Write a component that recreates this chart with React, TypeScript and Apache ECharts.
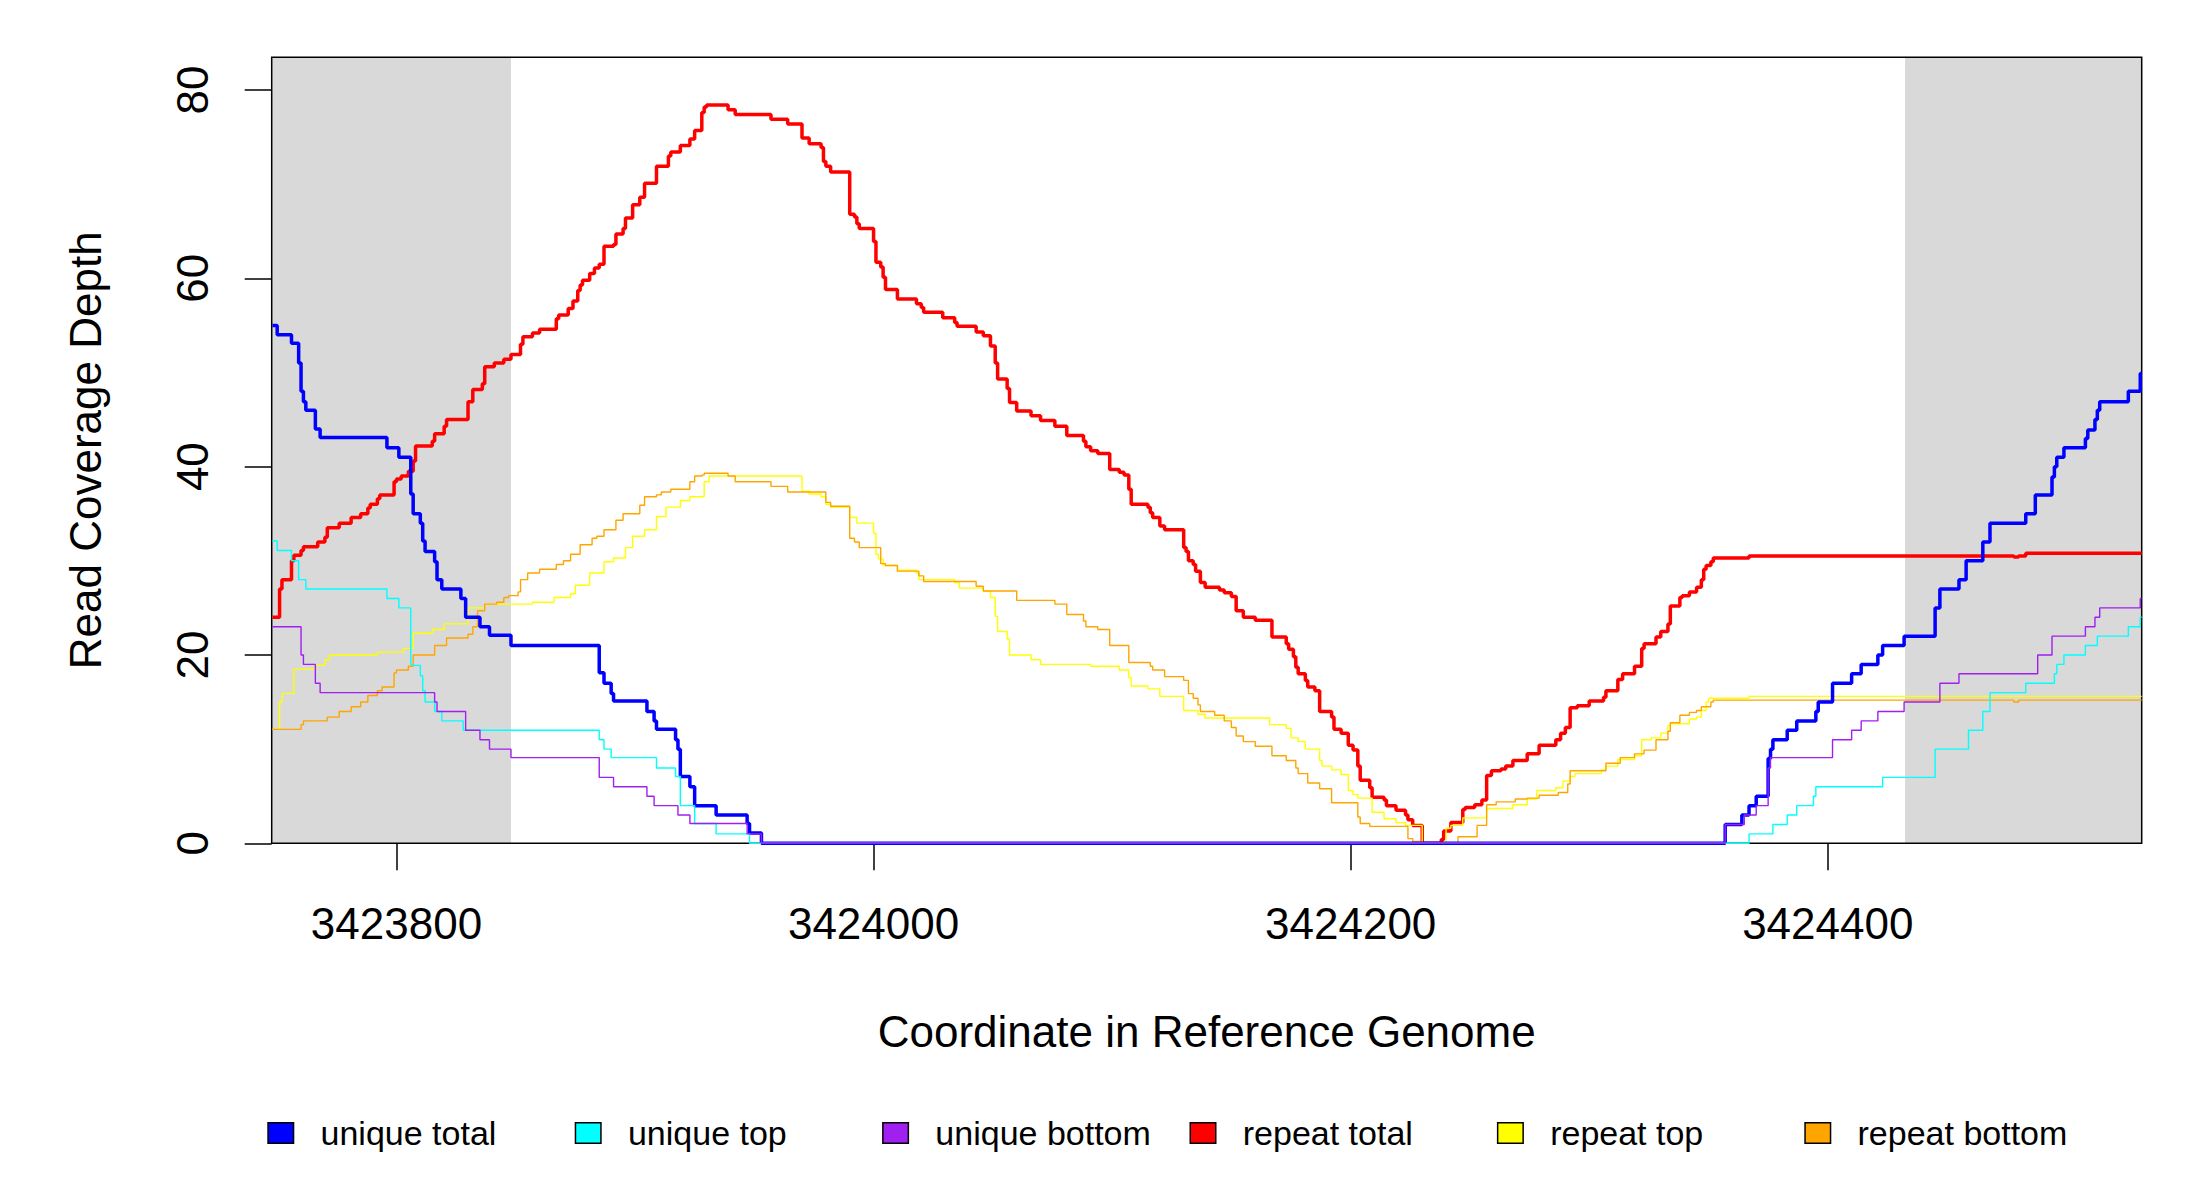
import React, { useEffect, useRef } from "react";
import * as echarts from "echarts";

// ---- axis ranges and ticks ----
const xRange: [number, number] = [3423747.7, 3424531.6];
const yRange: [number, number] = [0, 83.47];
const xTicks = [3423800, 3424000, 3424200, 3424400];
const yTicks = [0, 20, 40, 60, 80];
const shadedRegions: [number, number][] = [
  [3423747.7, 3423848],
  [3424432.4, 3424531.6],
];

// ---- series (x = region start of each step, y = depth) ----
const uniqueTotal: [number, number][] = [
  [3423748, 55.0], [3423750, 54.0], [3423756, 53.1], [3423759, 51.0], [3423760, 48.0], [3423761, 46.9],
  [3423762, 46.0], [3423766, 44.0], [3423768, 43.1], [3423796, 42.0], [3423801, 41.0], [3423806, 37.1],
  [3423807, 35.0], [3423810, 34.0], [3423811, 32.1], [3423812, 31.0], [3423816, 29.9], [3423817, 28.0],
  [3423819, 27.0], [3423827, 26.0], [3423829, 24.0], [3423835, 23.0], [3423839, 22.1], [3423848, 21.0],
  [3423885, 18.1], [3423887, 17.0], [3423890, 15.9], [3423891, 15.1], [3423905, 14.0], [3423908, 13.0],
  [3423909, 12.1], [3423917, 11.0], [3423918, 10.0], [3423919, 7.1], [3423923, 6.0], [3423925, 4.0],
  [3423934, 3.0], [3423947, 2.1], [3423948, 1.1], [3423953, 0], [3424357, 2.0], [3424364, 3.0],
  [3424367, 4.0], [3424370, 5.0], [3424375, 9.0], [3424376, 10.0], [3424377, 11.0], [3424383, 12.0],
  [3424387, 13.0], [3424395, 14.0], [3424396, 15.0], [3424402, 17.0], [3424410, 18.0], [3424414, 19.0],
  [3424421, 20.0], [3424423, 21.0], [3424432, 22.0], [3424445, 25.0], [3424447, 27.0], [3424455, 28.0],
  [3424458, 30.0], [3424465, 32.0], [3424468, 34.0], [3424483, 35.0], [3424487, 37.0], [3424494, 38.9],
  [3424495, 40.0], [3424496, 41.0], [3424499, 42.0], [3424508, 43.0], [3424509, 43.9], [3424512, 45.0],
  [3424513, 46.0], [3424514, 46.9], [3424526, 48.0], [3424531, 49.9], [3424531.6, 49.9],
];

const uniqueTop: [number, number][] = [
  [3423748, 32.1], [3423750, 31.1], [3423756, 30.0], [3423759, 28.0], [3423762, 27.0], [3423796, 26.0],
  [3423801, 25.0], [3423806, 19.0], [3423807, 18.9], [3423810, 17.8], [3423811, 16.2], [3423812, 15.0],
  [3423816, 14.0], [3423819, 13.0], [3423828, 12.0], [3423885, 11.0], [3423887, 10.0], [3423890, 9.1],
  [3423909, 8.0], [3423917, 7.1], [3423919, 4.0], [3423925, 2.1], [3423934, 1.0], [3423948, 0],
  [3424367, 1.0], [3424377, 2.0], [3424383, 3.0], [3424387, 4.0], [3424394, 5.0], [3424395, 6.0],
  [3424423, 7.0], [3424445, 10.0], [3424459, 12.0], [3424465, 14.0], [3424468, 16.0], [3424483, 17.0],
  [3424495, 18.0], [3424496, 19.0], [3424499, 20.0], [3424508, 21.0], [3424513, 22.0], [3424526, 23.0],
  [3424531, 24.0], [3424531.6, 24.0],
];

const uniqueBottom: [number, number][] = [
  [3423748, 23.0], [3423760, 20.0], [3423761, 19.0], [3423766, 17.0], [3423768, 16.0], [3423816, 15.0],
  [3423817, 14.0], [3423829, 12.0], [3423835, 11.0], [3423839, 10.0], [3423848, 9.1], [3423885, 7.0],
  [3423891, 6.0], [3423905, 5.0], [3423908, 4.0], [3423918, 3.0], [3423923, 2.1], [3423947, 1.0],
  [3423953, 0], [3424357, 2.0], [3424365, 3.0], [3424370, 4.0], [3424375, 8.0], [3424376, 9.1],
  [3424402, 11.0], [3424410, 12.0], [3424414, 13.0], [3424421, 14.0], [3424432, 15.0], [3424447, 17.0],
  [3424455, 18.0], [3424488, 20.0], [3424494, 22.0], [3424508, 23.0], [3424512, 24.0], [3424514, 25.0],
  [3424531, 26.0], [3424531.6, 26.0],
];

const repeatTotal: [number, number][] = [
  [3423748, 24.0], [3423751, 27.0], [3423752, 28.0], [3423756, 30.0], [3423757, 30.6], [3423760, 31.1],
  [3423761, 31.5], [3423767, 32.0], [3423770, 32.5], [3423771, 33.5], [3423776, 34.0], [3423781, 34.6],
  [3423785, 35.0], [3423788, 35.6], [3423789, 36.0], [3423792, 36.6], [3423793, 37.0], [3423799, 38.4],
  [3423800, 38.7], [3423802, 39.0], [3423805, 39.5], [3423807, 40.6], [3423808, 42.2], [3423815, 42.7],
  [3423816, 43.5], [3423820, 44.3], [3423821, 45.0], [3423830, 46.9], [3423832, 48.2], [3423836, 48.8],
  [3423837, 50.6], [3423841, 51.0], [3423845, 51.4], [3423848, 51.9], [3423852, 53.0], [3423853, 53.8],
  [3423857, 54.2], [3423860, 54.6], [3423867, 55.7], [3423868, 56.1], [3423872, 56.8], [3423874, 57.6],
  [3423876, 58.7], [3423877, 59.3], [3423878, 59.8], [3423881, 60.5], [3423883, 61.1], [3423885, 61.5],
  [3423887, 63.4], [3423891, 63.6], [3423892, 64.7], [3423895, 65.3], [3423896, 66.4], [3423899, 67.8],
  [3423902, 68.6], [3423904, 70.1], [3423909, 71.9], [3423914, 73.0], [3423915, 73.4], [3423919, 74.1],
  [3423923, 74.8], [3423925, 75.7], [3423928, 77.6], [3423929, 78.2], [3423930, 78.4], [3423939, 77.9],
  [3423942, 77.4], [3423957, 76.9], [3423964, 76.4], [3423970, 74.9], [3423973, 74.3], [3423978, 73.9],
  [3423979, 72.4], [3423980, 71.9], [3423982, 71.3], [3423990, 66.8], [3423992, 66.5], [3423993, 65.8],
  [3423994, 65.3], [3424000, 63.9], [3424001, 61.7], [3424003, 61.2], [3424004, 60.1], [3424005, 58.8],
  [3424010, 57.8], [3424018, 57.3], [3424020, 56.9], [3424021, 56.4], [3424029, 55.8], [3424034, 55.3],
  [3424035, 54.9], [3424043, 54.3], [3424046, 53.9], [3424049, 52.8], [3424051, 51.0], [3424052, 49.3],
  [3424056, 48.3], [3424057, 46.8], [3424060, 45.9], [3424066, 45.4], [3424070, 44.9], [3424076, 44.3],
  [3424081, 43.3], [3424088, 42.7], [3424089, 42.1], [3424091, 41.7], [3424094, 41.4], [3424099, 39.7],
  [3424103, 39.4], [3424105, 39.1], [3424107, 37.6], [3424108, 36.0], [3424115, 35.7], [3424116, 35.1],
  [3424117, 34.6], [3424120, 33.7], [3424122, 33.3], [3424130, 31.4], [3424131, 31.0], [3424132, 30.0],
  [3424134, 29.6], [3424135, 28.9], [3424137, 27.7], [3424139, 27.2], [3424145, 26.9], [3424147, 26.6],
  [3424150, 26.2], [3424152, 24.7], [3424155, 24.0], [3424160, 23.7], [3424167, 21.9], [3424173, 21.2],
  [3424174, 20.6], [3424176, 19.8], [3424177, 18.7], [3424178, 18.0], [3424181, 17.3], [3424182, 16.6],
  [3424185, 16.2], [3424187, 14.0], [3424192, 13.4], [3424193, 12.1], [3424196, 11.7], [3424199, 10.4],
  [3424201, 9.9], [3424203, 8.2], [3424204, 6.7], [3424208, 5.9], [3424209, 4.9], [3424214, 4.6],
  [3424215, 4.0], [3424219, 3.5], [3424223, 3.0], [3424224, 2.5], [3424226, 1.9], [3424230, 0],
  [3424238, 0.4], [3424239, 1.3], [3424242, 2.2], [3424247, 3.6], [3424248, 3.8], [3424252, 4.1],
  [3424255, 4.6], [3424257, 7.2], [3424259, 7.7], [3424263, 7.9], [3424265, 8.2], [3424268, 8.8],
  [3424274, 9.5], [3424279, 10.4], [3424286, 11.0], [3424288, 11.7], [3424290, 12.3], [3424292, 14.4],
  [3424295, 14.6], [3424300, 15.1], [3424306, 15.5], [3424307, 16.2], [3424312, 17.4], [3424314, 18.0],
  [3424319, 18.8], [3424322, 20.7], [3424323, 21.2], [3424328, 21.9], [3424330, 22.5], [3424333, 23.3],
  [3424334, 25.2], [3424338, 26.1], [3424339, 26.3], [3424342, 26.7], [3424345, 27.2], [3424347, 28.0],
  [3424348, 29.1], [3424349, 29.5], [3424351, 29.9], [3424352, 30.3], [3424367, 30.5], [3424478, 30.4],
  [3424480, 30.5], [3424483, 30.8], [3424531.6, 30.8],
];

const repeatTop: [number, number][] = [
  [3423748, 12.1], [3423751, 15.0], [3423752, 15.9], [3423757, 18.5], [3423766, 18.9], [3423770, 19.5],
  [3423772, 20.0], [3423792, 20.3], [3423803, 20.7], [3423807, 22.3], [3423815, 22.7], [3423820, 23.3],
  [3423830, 25.0], [3423837, 25.4], [3423857, 25.6], [3423866, 26.1], [3423873, 26.5], [3423875, 27.4],
  [3423881, 28.7], [3423887, 29.9], [3423891, 30.3], [3423896, 31.4], [3423899, 32.6], [3423904, 33.3],
  [3423909, 34.7], [3423913, 35.7], [3423919, 36.4], [3423923, 36.8], [3423929, 38.4], [3423931, 39.0],
  [3423970, 37.4], [3423973, 37.1], [3423978, 36.8], [3423980, 36.0], [3423982, 35.7], [3423990, 34.6],
  [3423993, 34.0], [3424000, 32.9], [3424001, 30.7], [3424002, 30.2], [3424004, 29.5], [3424010, 29.0],
  [3424018, 28.7], [3424019, 28.0], [3424034, 27.7], [3424036, 27.1], [3424046, 26.8], [3424049, 26.1],
  [3424051, 24.1], [3424052, 22.5], [3424056, 21.7], [3424057, 20.0], [3424066, 19.5], [3424070, 19.0],
  [3424091, 18.8], [3424103, 18.4], [3424107, 17.6], [3424108, 16.7], [3424115, 16.4], [3424120, 15.6],
  [3424130, 14.1], [3424136, 13.7], [3424139, 13.3], [3424166, 12.6], [3424173, 12.2], [3424175, 11.2],
  [3424178, 10.8], [3424181, 10.0], [3424187, 8.8], [3424188, 8.2], [3424192, 7.8], [3424196, 7.3],
  [3424199, 5.6], [3424201, 5.2], [3424203, 4.8], [3424209, 3.3], [3424214, 2.6], [3424219, 2.2],
  [3424223, 1.9], [3424230, 0], [3424240, 1.6], [3424242, 1.9], [3424247, 2.7], [3424257, 3.7],
  [3424268, 4.1], [3424274, 4.7], [3424278, 5.6], [3424286, 5.9], [3424289, 6.6], [3424292, 7.1],
  [3424294, 7.4], [3424305, 7.8], [3424307, 8.2], [3424312, 8.9], [3424319, 9.3], [3424322, 11.0],
  [3424326, 11.2], [3424330, 11.7], [3424333, 12.5], [3424334, 12.7], [3424342, 13.2], [3424345, 13.4],
  [3424347, 14.1], [3424349, 15.0], [3424350, 15.4], [3424367, 15.6], [3424531.6, 15.6],
];

const repeatBottom: [number, number][] = [
  [3423748, 12.1], [3423760, 12.6], [3423761, 13.0], [3423771, 13.4], [3423776, 14.0], [3423781, 14.5],
  [3423785, 15.0], [3423788, 15.7], [3423792, 16.2], [3423794, 16.6], [3423799, 18.1], [3423800, 18.4],
  [3423805, 18.8], [3423807, 20.0], [3423816, 21.0], [3423821, 21.8], [3423830, 22.2], [3423832, 23.0],
  [3423834, 24.7], [3423837, 25.4], [3423842, 25.6], [3423845, 26.1], [3423847, 26.3], [3423851, 26.7],
  [3423852, 28.0], [3423855, 28.7], [3423860, 29.1], [3423867, 29.6], [3423870, 30.0], [3423873, 30.7],
  [3423877, 31.7], [3423882, 32.4], [3423884, 32.6], [3423887, 33.3], [3423892, 34.3], [3423895, 35.0],
  [3423902, 35.9], [3423904, 36.8], [3423909, 37.0], [3423911, 37.3], [3423915, 37.6], [3423923, 38.4],
  [3423925, 39.0], [3423928, 39.1], [3423929, 39.3], [3423939, 39.0], [3423942, 38.4], [3423957, 37.9],
  [3423964, 37.3], [3423980, 36.2], [3423982, 35.8], [3423990, 32.4], [3423992, 32.0], [3423994, 31.4],
  [3424003, 29.7], [3424005, 29.5], [3424010, 28.9], [3424019, 28.4], [3424021, 27.8], [3424043, 27.3],
  [3424046, 26.8], [3424060, 25.8], [3424076, 25.4], [3424081, 24.3], [3424088, 23.6], [3424089, 23.0],
  [3424094, 22.7], [3424099, 21.0], [3424107, 19.2], [3424116, 18.8], [3424117, 18.4], [3424122, 17.7],
  [3424130, 17.3], [3424132, 15.9], [3424134, 15.4], [3424136, 14.7], [3424137, 14.0], [3424143, 13.6],
  [3424147, 13.0], [3424150, 12.3], [3424152, 11.4], [3424155, 10.8], [3424160, 10.3], [3424167, 9.3],
  [3424173, 8.8], [3424177, 8.0], [3424178, 7.4], [3424182, 6.4], [3424187, 5.8], [3424192, 4.3],
  [3424203, 2.8], [3424204, 2.1], [3424208, 1.8], [3424224, 0.5], [3424226, 0.2], [3424230, 0],
  [3424245, 0.7], [3424253, 1.9], [3424257, 4.1], [3424261, 4.4], [3424269, 4.7], [3424274, 4.8],
  [3424279, 5.1], [3424287, 5.4], [3424291, 6.3], [3424292, 7.7], [3424307, 8.5], [3424313, 9.1],
  [3424319, 9.5], [3424323, 9.9], [3424328, 11.0], [3424333, 11.9], [3424334, 12.8], [3424338, 13.6],
  [3424342, 13.9], [3424345, 14.1], [3424347, 14.5], [3424351, 15.0], [3424352, 15.2], [3424478, 15.0],
  [3424480, 15.2], [3424531.6, 15.2],
];

const legendNames = ["unique total", "unique top", "unique bottom", "repeat total", "repeat top", "repeat bottom"];
const colors = ["#0000FF", "#00FFFF", "#A020F0", "#FF0000", "#FFFF00", "#FFA500"];

const FONT = "'Liberation Sans', Arial, Helvetica, sans-serif";

// layout (pixels)
const G_LEFT = 271.7;
const G_TOP = 57.3;
const G_W = 1870;
const G_H = 786;

export default function App() {
  const ref = useRef<HTMLDivElement>(null);

  useEffect(() => {
    document.body.style.margin = "0";
    if (!ref.current) return;
    const chart = echarts.init(ref.current, undefined, { renderer: "svg" });

    const dataSets = [uniqueTotal, uniqueTop, uniqueBottom, repeatTotal, repeatTop, repeatBottom];
    const widths = [3.5, 1.4, 1.4, 3.5, 1.4, 1.4];
    const drawOrder = [3, 4, 5, 0, 1, 2];

    const lineSeries = drawOrder.map((i, k) => ({
      name: legendNames[i],
      type: "line",
      step: "end",
      data: dataSets[i],
      showSymbol: false,
      symbol: "none",
      z: 3 + k,
      itemStyle: { color: colors[i] },
      lineStyle: { color: colors[i], width: widths[i] },
      emphasis: { disabled: true },
    }));

    const legendLeft0 = 267.3;
    const legendStep = 307.4;

    const option: any = {
      animation: false,
      backgroundColor: "#ffffff",
      textStyle: { fontFamily: FONT },
      grid: { left: G_LEFT, top: G_TOP, width: G_W, height: G_H, show: false },
      xAxis: {
        type: "value",
        min: xRange[0],
        max: xRange[1],
        axisLine: { show: false },
        splitLine: { show: false },
        axisTick: {
          show: true,
          inside: false,
          length: 27,
          customValues: xTicks,
          lineStyle: { color: "#000", width: 1.5 },
        },
        axisLabel: {
          customValues: xTicks,
          fontSize: 44,
          color: "#000",
          fontFamily: FONT,
          margin: 58,
          formatter: (v: number) => String(v),
        },
        name: "Coordinate in Reference Genome",
        nameLocation: "middle",
        nameGap: 166,
        nameTextStyle: { fontSize: 44, color: "#000", fontFamily: FONT },
      },
      yAxis: {
        type: "value",
        min: yRange[0],
        max: yRange[1],
        axisLine: { show: false },
        splitLine: { show: false },
        axisTick: {
          show: true,
          inside: false,
          length: 27,
          customValues: yTicks,
          lineStyle: { color: "#000", width: 1.5 },
        },
        axisLabel: {
          customValues: yTicks,
          rotate: 90,
          fontSize: 44,
          color: "#000",
          fontFamily: FONT,
          margin: 57,
          formatter: (v: number) => String(v),
        },
        name: "Read Coverage Depth",
        nameLocation: "middle",
        nameRotate: 90,
        nameGap: 164,
        nameTextStyle: { fontSize: 44, color: "#000", fontFamily: FONT },
      },
      legend: legendNames.map((n, i) => ({
        data: [n],
        left: legendLeft0 + legendStep * i,
        top: 1116,
        padding: 0,
        icon: "rect",
        itemWidth: 25.5,
        itemHeight: 20.6,
        itemStyle: { borderColor: "#000", borderWidth: 1.5 },
        textStyle: { fontSize: 34, color: "#000", fontFamily: FONT, padding: [0, 0, 0, 22] },
        selectedMode: false,
      })),
      graphic: [
        {
          type: "rect",
          z: 2,
          silent: true,
          shape: { x: G_LEFT, y: G_TOP, width: G_W, height: G_H },
          style: { fill: "none", stroke: "#000", lineWidth: 1.5 },
        },
      ],
      series: [
        {
          name: "shade",
          type: "line",
          data: [[xRange[0], 0]],
          symbol: "none",
          lineStyle: { opacity: 0 },
          z: 1,
          silent: true,
          markArea: {
            silent: true,
            itemStyle: { color: "#D9D9D9" },
            data: shadedRegions.map(([a, b]) => [{ xAxis: a }, { xAxis: b }]),
          },
        },
        ...lineSeries,
      ],
    };

    chart.setOption(option);
    return () => chart.dispose();
  }, []);

  return <div ref={ref} style={{ width: 2200, height: 1200 }} />;
}
